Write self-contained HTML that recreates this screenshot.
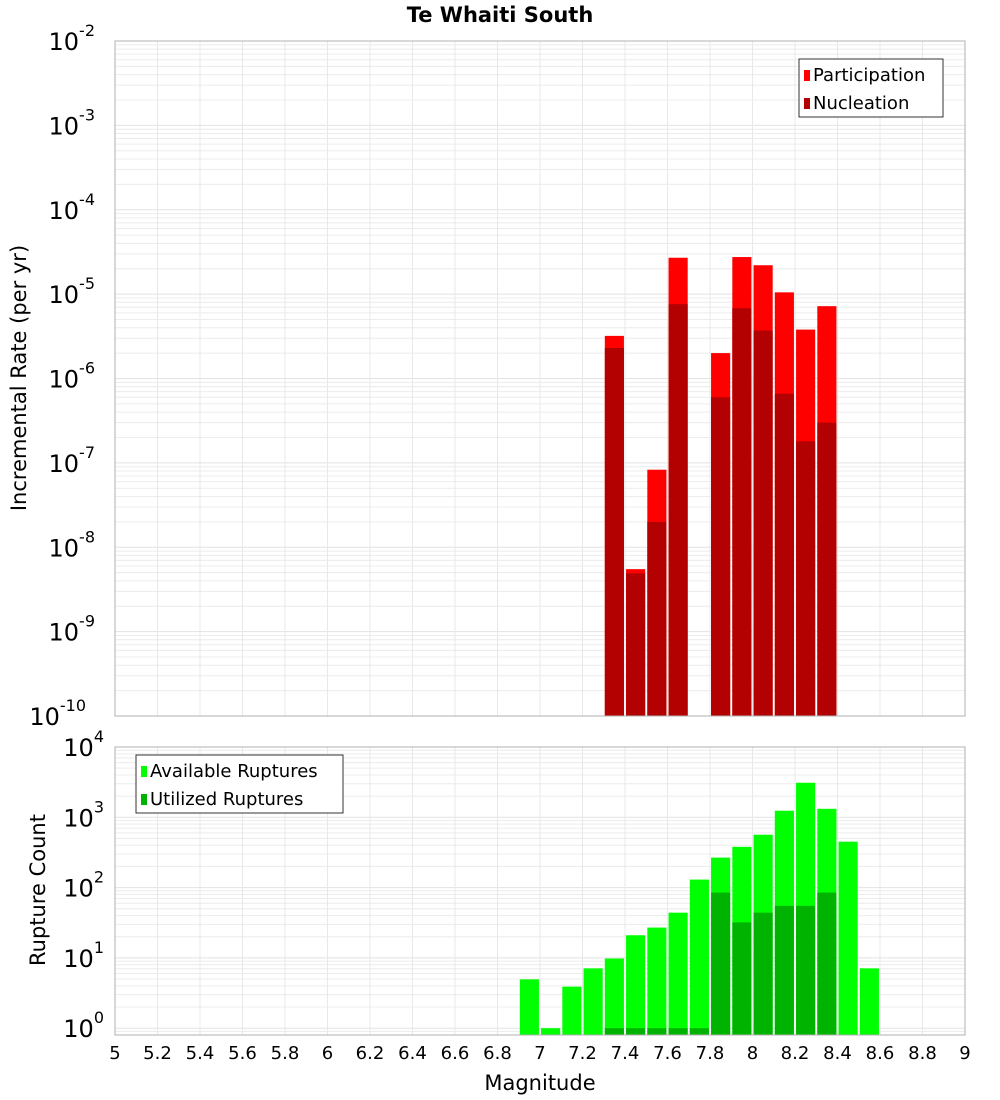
<!DOCTYPE html>
<html><head><meta charset="utf-8"><style>
body{margin:0;background:#fff;}
svg{display:block;font-family:"DejaVu Sans","Liberation Sans",sans-serif;}
</style></head><body>
<svg id="chart" width="1000" height="1100"></svg>
<script>
const binCenters = [7.35,7.45,7.55,7.65,7.85,7.95,8.05,8.15,8.25,8.35];
const participation = [3.2e-6,5.5e-9,8.3e-8,2.7e-5,2.0e-6,2.75e-5,2.2e-5,1.05e-5,3.8e-6,7.2e-6];
const nucleation = [2.3e-6,4.9e-9,2.0e-8,7.6e-6,6.0e-7,6.8e-6,3.7e-6,6.6e-7,1.8e-7,3.0e-7];
const countCenters = [6.95,7.05,7.15,7.25,7.35,7.45,7.55,7.65,7.75,7.85,7.95,8.05,8.15,8.25,8.35,8.45,8.55];
const available = [4.95,1,3.9,7.1,9.8,21,27,44,130,267,380,565,1240,3100,1320,450,7.1];
const utilized = [0,0,0,0,1,1,1,1,1,85,32,44,55,55,85,0,0];
const xTicks = [5,5.2,5.4,5.6,5.8,6,6.2,6.4,6.6,6.8,7,7.2,7.4,7.6,7.8,8,8.2,8.4,8.6,8.8,9];
const topExps = [-10,-9,-8,-7,-6,-5,-4,-3,-2];
const botExps = [0,1,2,3,4];

const svg = document.getElementById('chart');
const NS = 'http://www.w3.org/2000/svg';
function mk(tag, attrs, parent){const e=document.createElementNS(NS,tag);for(const k in attrs)e.setAttribute(k,attrs[k]);(parent||svg).appendChild(e);return e;}
const X0=115,X1=965;
const xs = v => X0+(v-5)/4*(X1-X0);
const T0=41,T1=716;
const yT = v => T1-(Math.log10(v)+10)/8*(T1-T0);
const B0=747,B1=1035, bMin=Math.log10(0.8), bMax=4;
const yB = v => B1-(Math.log10(v)-bMin)/(bMax-bMin)*(B1-B0);

function grid(yf, y0, y1, lo, hi){
  for(let e=lo;e<hi;e++)for(let m=1;m<10;m++){const v=m*Math.pow(10,e);const y=yf(v);if(y<y0-0.5||y>y1+0.5)continue;
    const l=mk('line',{x1:X0,x2:X1,y1:y,y2:y,stroke:m===1?'#e2e2e2':'#ececec','stroke-width':1});
    }
  xTicks.forEach(t=>{const x=xs(t);const l=mk('line',{x1:x,x2:x,y1:y0,y2:y1,stroke:'#e8e8e8','stroke-width':1});
    });
}
mk('rect',{x:X0,y:T0,width:X1-X0,height:T1-T0,fill:'#fff'});
grid(yT,T0,T1,-10,-2);
grid(yB,B0,B1,-1,4);

const hw = (X1-X0)/40*0.9/2;
binCenters.forEach((c,i)=>{
  const x=xs(c)-hw;
  const p=mk('rect',{x:x,y:yT(participation[i]),width:2*hw,height:T1-yT(participation[i]),fill:'#ff0000'});
  
  const n=mk('rect',{x:x,y:yT(nucleation[i]),width:2*hw,height:T1-yT(nucleation[i]),fill:'#b30000'});
  
});
countCenters.forEach((c,i)=>{
  const x=xs(c)-hw;
  const a=mk('rect',{x:x,y:yB(available[i]),width:2*hw,height:B1-yB(available[i]),fill:'#00ff00'});
  
  if(utilized[i]>0){const u=mk('rect',{x:x,y:yB(utilized[i]),width:2*hw,height:B1-yB(utilized[i]),fill:'#00b300'});
  }
});
mk('rect',{x:X0,y:T0,width:X1-X0,height:T1-T0,fill:'none',stroke:'#b0b0b0'});
mk('rect',{x:X0,y:B0,width:X1-X0,height:B1-B0,fill:'none',stroke:'#b0b0b0'});

function expLabel(e,y,name){
  const t=mk('text',{x:X0-8,y:y+9,'text-anchor':'end','font-size':24,fill:'#000'});
  
  t.textContent='10';
  const s=mk('tspan',{dy:-14,'font-size':16});s.textContent=String(e);t.appendChild(s);
  // shift so exponent ends at axis
  t.setAttribute('x',X0-2-String(e).length*9);
}
topExps.forEach(e=>expLabel(e,yT(Math.pow(10,e)),'y-tick-label'));
botExps.forEach(e=>expLabel(e,yB(Math.pow(10,e)),'y-tick-label-count'));
xTicks.forEach(t=>{const l=mk('text',{x:xs(t),y:1059,'text-anchor':'middle','font-size':18,fill:'#000'});
  l.textContent=String(t);});

const title=mk('text',{x:500,y:22,'text-anchor':'middle','font-size':21,'font-weight':'bold'});
title.textContent='Te Whaiti South';
const xt=mk('text',{x:540,y:1090,'text-anchor':'middle','font-size':21});
xt.textContent='Magnitude';
const yt=mk('text',{x:0,y:0,'text-anchor':'middle','font-size':21,transform:'translate(26,378) rotate(-90)'});
yt.textContent='Incremental Rate (per yr)';
const yt2=mk('text',{x:0,y:0,'text-anchor':'middle','font-size':21,transform:'translate(45,890) rotate(-90)'});
yt2.textContent='Rupture Count';

function legend(x,y,w,items,name){
  const g=mk('g',{});
  mk('rect',{x:x,y:y,width:w,height:58,fill:'#fff',stroke:'#333'},g);
  items.forEach((it,i)=>{
    mk('rect',{x:x+5,y:y+11+i*28,width:6,height:11,fill:it[1]},g);
    const t=mk('text',{x:x+14,y:y+22+i*28,'font-size':18},g);t.textContent=it[0];
  });
}
legend(799,59,144,[['Participation','#ff0000'],['Nucleation','#b30000']],'legend-top');
legend(136,755,207,[['Available Ruptures','#00ff00'],['Utilized Ruptures','#00b300']],'legend-bottom');
</script>
</body></html>
